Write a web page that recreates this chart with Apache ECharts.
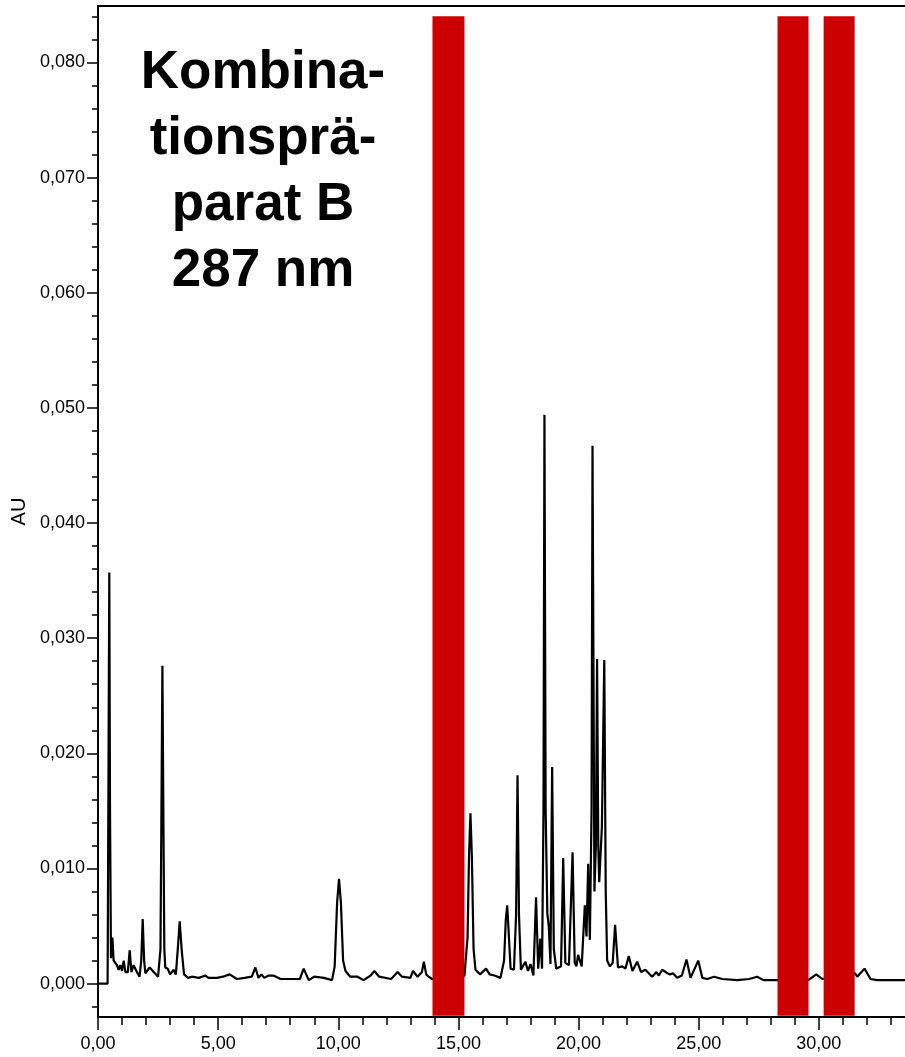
<!DOCTYPE html>
<html>
<head>
<meta charset="utf-8">
<script src="https://cdn.jsdelivr.net/npm/echarts@6/dist/echarts.min.js"></script>
<style>
  html, body { margin: 0; padding: 0; background: #fff; }
  #chart { width: 905px; height: 1057px; }
</style>
</head>
<body>
<div id="chart"></div>
<script>
// retention time (min) and absorbance (AU)
var retTime = [
  0.00, 0.40, 0.44, 0.47, 0.50, 0.54, 0.60, 0.65, 0.72, 0.79, 0.86, 0.93, 1.00, 1.07, 1.14, 1.24,
  1.32, 1.39, 1.48, 1.62, 1.73, 1.80, 1.86, 1.92, 1.97, 2.15, 2.32, 2.50, 2.60, 2.64, 2.68, 2.72,
  2.76, 2.80, 2.90, 3.00, 3.14, 3.24, 3.32, 3.40, 3.48, 3.58, 3.75, 3.90, 4.20, 4.47, 4.60, 4.95,
  5.20, 5.48, 5.78, 6.10, 6.40, 6.55, 6.68, 6.80, 6.92, 7.10, 7.30, 7.60, 8.10, 8.40, 8.56, 8.77,
  9.00, 9.40, 9.74, 9.85, 9.95, 10.03, 10.11, 10.20, 10.30, 10.50, 10.80, 11.05, 11.35, 11.50, 11.70, 12.20,
  12.47, 12.65, 13.00, 13.11, 13.30, 13.48, 13.56, 13.66, 13.76, 13.90, 14.50, 15.25, 15.38, 15.44, 15.50, 15.56,
  15.63, 15.71, 15.90, 16.15, 16.30, 16.50, 16.75, 16.90, 16.97, 17.03, 17.09, 17.17, 17.31, 17.40, 17.46, 17.52,
  17.60, 17.79, 17.89, 18.00, 18.12, 18.23, 18.32, 18.41, 18.48, 18.54, 18.58, 18.63, 18.70, 18.76, 18.83, 18.90,
  18.97, 19.07, 19.27, 19.36, 19.45, 19.60, 19.75, 19.84, 19.91, 19.98, 20.13, 20.26, 20.33, 20.40, 20.47, 20.54,
  20.58, 20.66, 20.72, 20.77, 20.82, 20.86, 20.97, 21.07, 21.13, 21.19, 21.30, 21.42, 21.52, 21.64, 21.82, 21.95,
  22.09, 22.24, 22.44, 22.60, 22.78, 23.06, 23.24, 23.34, 23.48, 23.70, 23.80, 23.93, 24.10, 24.30, 24.49, 24.66,
  24.98, 25.15, 25.36, 25.64, 25.98, 26.60, 27.10, 27.43, 27.70, 28.20, 29.56, 29.89, 30.14, 31.50, 31.60, 31.90,
  32.15, 32.42, 33.00, 33.70, 35.00
];
var absorb = [
  0.0000, 0.0000, 0.0200, 0.0357, 0.0150, 0.0022, 0.0040, 0.0020, 0.0021, 0.0016, 0.0012, 0.0016, 0.0011, 0.0020, 0.0010, 0.0010,
  0.0029, 0.0010, 0.0016, 0.0010, 0.0006, 0.0020, 0.0056, 0.0020, 0.0009, 0.0014, 0.0010, 0.0006, 0.0030, 0.0150, 0.0276, 0.0150,
  0.0030, 0.0014, 0.0013, 0.0008, 0.0012, 0.0008, 0.0030, 0.0054, 0.0030, 0.0008, 0.0005, 0.0006, 0.0005, 0.0007, 0.0005, 0.0005,
  0.0006, 0.0008, 0.0004, 0.0005, 0.0006, 0.0014, 0.0005, 0.0008, 0.0005, 0.0007, 0.0007, 0.0004, 0.0004, 0.0004, 0.0013, 0.0003,
  0.0006, 0.0005, 0.0003, 0.0015, 0.0070, 0.0091, 0.0070, 0.0020, 0.0011, 0.0006, 0.0006, 0.0003, 0.0007, 0.0011, 0.0006, 0.0004,
  0.0010, 0.0006, 0.0005, 0.0011, 0.0006, 0.0010, 0.0019, 0.0008, 0.0006, 0.0004, 0.0004, 0.0007, 0.0040, 0.0110, 0.0148, 0.0110,
  0.0030, 0.0012, 0.0008, 0.0013, 0.0008, 0.0007, 0.0005, 0.0020, 0.0055, 0.0068, 0.0045, 0.0013, 0.0012, 0.0060, 0.0181, 0.0060,
  0.0012, 0.0019, 0.0011, 0.0017, 0.0007, 0.0075, 0.0013, 0.0039, 0.0013, 0.0150, 0.0494, 0.0150, 0.0061, 0.0050, 0.0017, 0.0188,
  0.0030, 0.0013, 0.0015, 0.0109, 0.0018, 0.0016, 0.0114, 0.0018, 0.0015, 0.0025, 0.0015, 0.0068, 0.0041, 0.0104, 0.0038, 0.0150,
  0.0467, 0.0080, 0.0120, 0.0282, 0.0120, 0.0088, 0.0136, 0.0281, 0.0080, 0.0020, 0.0015, 0.0018, 0.0051, 0.0014, 0.0015, 0.0013,
  0.0024, 0.0011, 0.0019, 0.0010, 0.0012, 0.0006, 0.0010, 0.0007, 0.0012, 0.0009, 0.0008, 0.0009, 0.0005, 0.0007, 0.0021, 0.0005,
  0.0020, 0.0005, 0.0004, 0.0006, 0.0004, 0.0003, 0.0004, 0.0006, 0.0003, 0.0003, 0.0003, 0.0008, 0.0004, 0.0009, 0.0006, 0.0013,
  0.0004, 0.0003, 0.0003, 0.0003, 0.0003
];

// red masking bands (start / end time), drawn from low to high AU
var bandStart = [13.92, 28.28, 30.20];
var bandEnd = [15.25, 29.57, 31.49];
var bandLow = -0.0028;
var bandHigh = 0.0840;

var yMajor = [0, 0.01, 0.02, 0.03, 0.04, 0.05, 0.06, 0.07, 0.08];
var yMinor = [-0.002, 0.002, 0.004, 0.006, 0.008, 0.012, 0.014, 0.016, 0.018, 0.022, 0.024, 0.026, 0.028,
  0.032, 0.034, 0.036, 0.038, 0.042, 0.044, 0.046, 0.048, 0.052, 0.054, 0.056, 0.058, 0.062, 0.064,
  0.066, 0.068, 0.072, 0.074, 0.076, 0.078, 0.082, 0.084];

var titleText = 'Kombina-\ntionsprä-\nparat B\n287 nm';

var trace = retTime.map(function (t, i) { return [t, absorb[i]]; });
var bands = bandStart.map(function (s, i) { return [s, bandEnd[i], bandLow, bandHigh]; });

var chart = echarts.init(document.getElementById('chart'));
var font = '"Liberation Sans", Arial, sans-serif';

chart.setOption({
  animation: false,
  backgroundColor: '#fff',
  textStyle: { fontFamily: font, color: '#000' },
  grid: {
    left: 98,
    top: 6,
    width: 841,
    bottom: 40,
    outerBoundsMode: 'none',
    containLabel: false,
    show: true,
    borderColor: '#000',
    borderWidth: 2
  },
  graphic: [{
    type: 'text',
    left: 263 - 130,
    top: 40,
    style: {
      text: titleText,
      width: 260,
      font: 'bold 53px ' + font,
      lineHeight: 66,
      align: 'center',
      textAlign: 'center',
      fill: '#000'
    }
  }],
  xAxis: [{
    type: 'value',
    min: 0,
    max: 35,
    interval: 5,
    axisLine: { show: true, onZero: false, lineStyle: { color: '#000', width: 2 } },
    axisTick: { show: true, length: 13, lineStyle: { color: '#000', width: 1.5 } },
    minorTick: { show: true, splitNumber: 5, length: 8, lineStyle: { color: '#000', width: 1.5 } },
    axisLabel: {
      color: '#000',
      fontSize: 18,
      margin: 18,
      formatter: function (v) { return v.toFixed(2).replace('.', ','); }
    },
    splitLine: { show: false }
  }],
  yAxis: [{
    type: 'value',
    min: -0.0029,
    max: 0.0849,
    name: 'AU',
    nameLocation: 'middle',
    nameGap: 58,
    nameTextStyle: { fontSize: 20, color: '#000' },
    axisLine: { show: true, onZero: false, lineStyle: { color: '#000', width: 2 } },
    axisTick: { show: true, length: 11, customValues: yMajor, lineStyle: { color: '#000', width: 1.5 } },
    axisLabel: {
      color: '#000',
      fontSize: 18,
      margin: 13,
      customValues: yMajor,
      formatter: function (v) { return v.toFixed(3).replace('.', ','); }
    },
    splitLine: { show: false }
  }, {
    type: 'value',
    min: -0.0029,
    max: 0.0849,
    position: 'left',
    axisLine: { show: false },
    axisTick: { show: true, length: 6, customValues: yMinor, lineStyle: { color: '#000', width: 1.5 } },
    axisLabel: { show: false },
    splitLine: { show: false }
  }],
  series: [{
    name: 'trace',
    type: 'line',
    data: trace,
    showSymbol: false,
    symbol: 'none',
    z: 2,
    lineStyle: { color: '#000', width: 2.2 }
  }, {
    name: 'bands',
    type: 'custom',
    z: 5,
    data: bands,
    encode: { x: [0, 1], y: [2, 3] },
    renderItem: function (params, api) {
      var p0 = api.coord([api.value(0), api.value(3)]);
      var p1 = api.coord([api.value(1), api.value(2)]);
      return {
        type: 'rect',
        shape: { x: p0[0], y: p0[1], width: p1[0] - p0[0], height: p1[1] - p0[1] },
        style: { fill: '#cc0000' }
      };
    }
  }]
});
</script>
</body>
</html>
